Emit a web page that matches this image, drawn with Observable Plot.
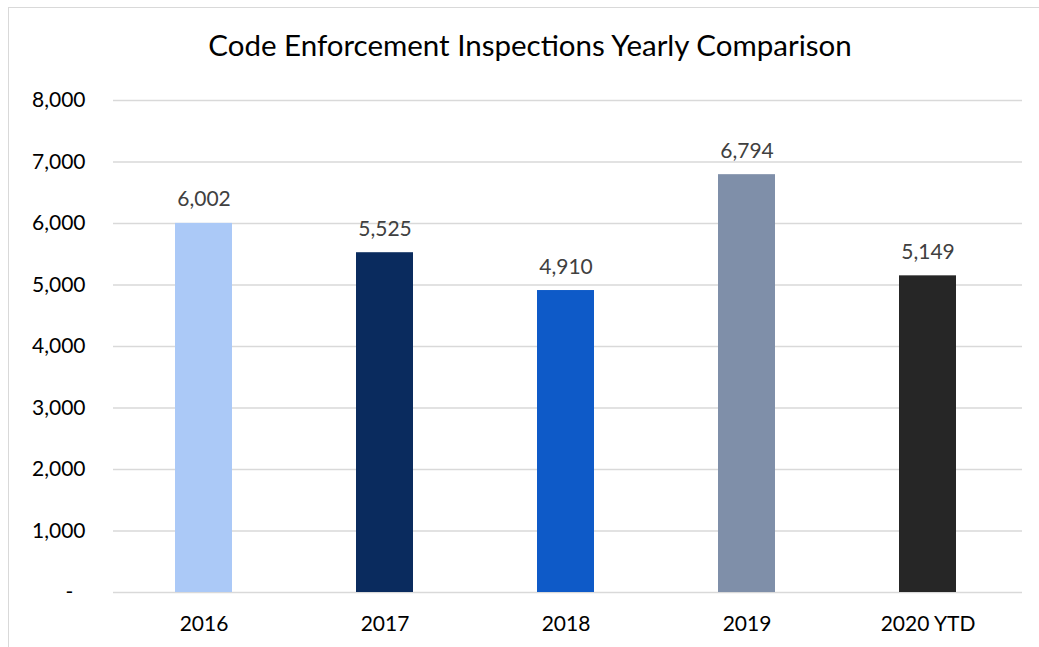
<!DOCTYPE html>
<html>
<head>
<meta charset="utf-8">
<script src="https://cdn.jsdelivr.net/npm/d3@7"></script>
<script src="https://cdn.jsdelivr.net/npm/@observablehq/plot@0.6"></script>
<style>
  html, body { margin: 0; padding: 0; background: #fff; }
  #wrap { position: relative; width: 1039px; height: 647px; overflow: hidden; font-family: Lato, "Open Sans", sans-serif; }
  #frame { position: absolute; left: 8px; top: 7px; width: 1040px; height: 660px; border-left: 1.5px solid #d9d9d9; border-top: 1.5px solid #d9d9d9; box-sizing: border-box; }
  #title { position: absolute; left: 0; width: 1060px; top: 27px; text-align: center; font-size: 29.5px; color: #000; }
  #chart { position: absolute; left: 0; top: 0; }
</style>
</head>
<body>
<div id="wrap">
  <div id="frame"></div>
  <div id="title">Code Enforcement Inspections Yearly Comparison</div>
  <div id="chart"></div>
</div>
<script>
const categories = ["2016", "2017", "2018", "2019", "2020 YTD"];
const values = [6002, 5525, 4910, 6794, 5149];
const colors = ["#abc9f7", "#0a2b5e", "#0e5ac8", "#7f8fa9", "#262626"];
const yTicks = [0, 1000, 2000, 3000, 4000, 5000, 6000, 7000, 8000];

const data = categories.map((c, i) => ({cat: c, value: values[i]}));
const fmt = d3.format(",");

const plot = Plot.plot({
  width: 1039,
  height: 647,
  marginLeft: 111,
  marginRight: 19,
  marginTop: 100,
  marginBottom: 55,
  style: {fontFamily: "Lato, 'Open Sans', sans-serif", fontSize: "21px", background: "transparent"},
  x: {domain: categories, paddingInner: 0.686, paddingOuter: 0.343, label: null},
  y: {domain: [0, 8000], label: null},
  color: {domain: categories, range: colors},
  marks: [
    Plot.gridY(yTicks, {insetLeft: 2, insetRight: -2, stroke: "#d9d9d9", strokeOpacity: 1, strokeWidth: 1.5}),
    Plot.barY(data, {x: "cat", y: "value", fill: "cat"}),
    Plot.text(data, {x: "cat", y: "value", text: d => fmt(d.value), lineAnchor: "bottom", dy: -17, fill: "#404040", fontSize: 21}),
    Plot.axisX({tickSize: 0, tickPadding: 24, fill: "#000", fontSize: 21}),
    Plot.axisY({ticks: yTicks, tickSize: 0, tickPadding: 26, fill: "#000", fontSize: 21,
      tickFormat: d => d === 0 ? "-\u2007" : fmt(d)})
  ]
});
document.getElementById("chart").appendChild(plot);
</script>
</body>
</html>
